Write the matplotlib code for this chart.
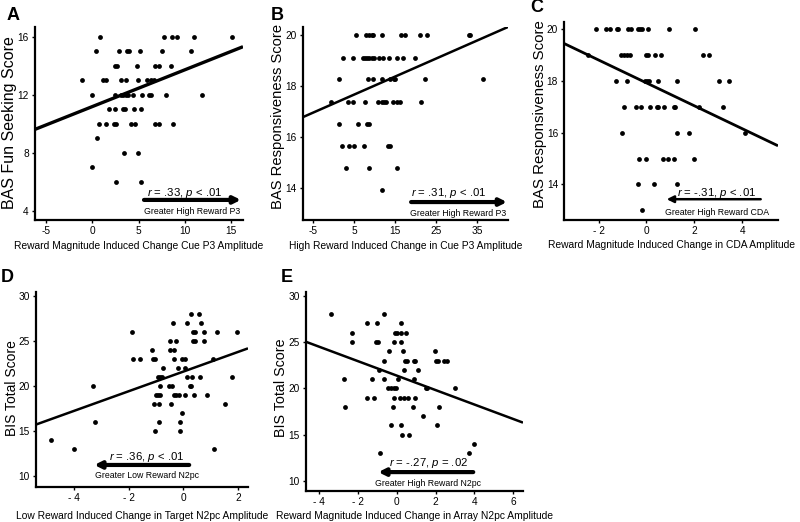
import matplotlib
matplotlib.use("Agg")
import matplotlib.pyplot as plt
import numpy as np

plt.rcParams['font.family'] = ['Liberation Sans', 'DejaVu Sans']
plt.rcParams['mathtext.fontset'] = 'custom'
plt.rcParams['mathtext.it'] = 'Liberation Sans:italic'
plt.rcParams['mathtext.rm'] = 'Liberation Sans'

# ---------------- Panel A ----------------
a_x = [0.83, 7.77, 8.67, 9.2, 11.0, 15.1,
       0.43, 2.88, 3.74, 4.0, 5.14, 7.55, 10.7,
       2.41, 2.63, 4.78, 6.83, 7.16, 8.53,
       -1.15, 1.15, 1.44, 3.09, 3.6, 4.93, 5.94, 6.4, 6.65,
       0.0, 2.41, 3.06, 3.35, 3.6, 3.85, 4.42, 5.36, 6.15, 6.3, 7.99, 11.9,
       1.83, 2.41, 3.35, 3.5, 4.5, 5.29,
       0.68, 1.47, 2.3, 2.59, 4.17, 4.6, 6.76, 7.16, 8.74,
       0.47, 3.42, 4.93, 0.0, 2.59, 5.29]
a_y = [16, 16, 16, 16, 16, 16,
       15, 15, 15, 15, 15, 15, 15,
       14, 14, 14, 14, 14, 14,
       13, 13, 13, 13, 13, 13, 13, 13, 13,
       12, 12, 12, 12, 12, 12, 12, 12, 12, 12, 12, 12,
       11, 11, 11, 11, 11, 11,
       10, 10, 10, 10, 10, 10, 10, 10, 10,
       9, 8, 8, 7, 6, 6]
a_fit = (11.19, 0.253)

# ---------------- Panel B ----------------
b_x = [5.33, 7.76, 8.66, 9.23, 9.6, 11.67, 16.54, 17.36, 21.18, 22.89, 32.97, 33.37,
       2.15, 4.59, 7.03, 7.6, 8.17, 8.66, 9.23, 9.72, 11.0, 12.15, 13.5, 15.5, 16.9, 19.96,
       1.26, 8.25, 9.63, 11.67, 13.78, 14.67, 15.08, 22.2, 36.4,
       -0.77, 3.37, 4.76, 7.52, 10.85, 11.67, 12.3, 12.7, 14.4, 15.5, 16.1, 21.4,
       1.34, 5.8, 8.17, 8.66,
       1.9, 3.78, 4.84, 7.28, 13.3, 13.8,
       3.05, 8.66, 15.4, 11.67]
b_y = [20.0] * 12 + [19.13] * 14 + [18.27] * 9 + [17.4] * 12 + [16.53] * 4 + \
      [15.66] * 6 + [14.8] * 3 + [13.93]
b_fit = (17.32, 0.0707)

# ---------------- Panel C ----------------
c_x = [-2.1, -1.68, -1.51, -1.24, -1.18, -0.78, -0.63, -0.35, -0.25, -0.18, 0.06, 0.96, 2.04,
       -2.42, -1.06, -0.92, -0.83, -0.68, -0.01, 0.06, 0.36, 0.61, 2.36, 2.61,
       -1.28, -0.81, -0.06, 0.03, 0.11, 0.47, 1.29, 3.03, 3.44,
       -0.93, -0.44, -0.21, 0.14, 0.43, 0.5, 0.75, 1.14, 1.19, 2.19, 3.19,
       -1.04, 1.29, 1.76, 4.11,
       -0.33, 0.0, 0.67, 0.89, 1.14, 1.99,
       -0.35, 0.33, 1.28, -0.17]
c_y = [20] * 13 + [19] * 11 + [18] * 9 + [17] * 11 + [16] * 4 + [15] * 6 + [14] * 3 + [13]
c_fit = (17.92, -0.442)

# ---------------- Panel D ----------------
d_x = [0.27, 0.56,
       -0.39, 0.12, 0.63,
       -1.89, 0.36, 0.41, 0.75, 1.21, 1.95,
       -0.5, -0.27, 0.33, 0.41, 0.75,
       -1.14, -0.48, -0.33,
       -1.84, -1.59, -1.1, -1.03, -0.36, -0.04, 0.07, 1.09,
       -0.75, -0.19, 0.04,
       -0.93, -0.85, -0.77, 0.13, 0.3, 0.61, 1.76,
       -3.28, -0.85, -0.52, -0.42, 0.23, 0.28,
       -0.99, -0.91, -0.85, -0.34, -0.27, -0.18, 0.04, 0.39, 0.86,
       -1.08, -0.88, -0.44, 1.53,
       -0.05,
       -3.23, -0.88, -0.12,
       -1.04, -0.12,
       -4.81,
       -3.97, 1.11]
d_y = [28] * 2 + [27] * 3 + [26] * 6 + [25] * 5 + [24] * 3 + [23] * 8 + [22] * 3 + \
      [21] * 7 + [20] * 6 + [19] * 9 + [18] * 4 + [17] + [16] * 3 + [15] * 2 + [14] + [13] * 2
d_fit = (21.64, 1.097)

# ---------------- Panel E ----------------
e_x = [-3.4, -0.69,
       -1.53, -1.01, 0.22,
       -2.3, -0.12, -0.02, 0.22, 0.48,
       -2.3, -1.1, -0.98, -0.17, 0.19,
       -0.39, 0.33, 1.96,
       -0.65, 0.43, 0.53, 0.87, 0.94, 2.04, 2.13, 2.42, 2.59,
       -0.94, 0.39, 1.08,
       -2.71, -1.29, -0.65, 0.07, 0.87,
       -0.48, -0.31, -0.17, -0.07, 1.48, 1.56, 2.98,
       -1.53, -1.17, -0.17, 0.14, 0.36, 0.58, 0.93,
       -2.69, -0.19, 0.81, 2.18,
       1.34,
       -0.31, 0.21, 2.08,
       0.26, 0.63,
       3.96,
       -0.86, 3.72]
e_y = [28] * 2 + [27] * 3 + [26] * 5 + [25] * 5 + [24] * 3 + [23] * 9 + [22] * 3 + \
      [21] * 5 + [20] * 7 + [19] * 7 + [18] * 4 + [17] + [16] * 3 + [15] * 2 + [14] + [13] * 2
e_fit = (21.37, -0.78)

panels = [
    dict(letter='A', x=a_x, y=a_y, fit=a_fit, rect=(35, 243, 27, 220),
         xlim=(-6.2, 16.3), ylim=(3.38, 16.67),
         xticks=[-5, 0, 5, 10, 15], xtl=['-5', '0', '5', '10', '15'],
         yticks=[4, 8, 12, 16],
         ylabel='BAS Fun Seeking Score',
         xlabel='Reward Magnitude Induced Change Cue P3 Amplitude',
         stat=r'$\mathit{r}$ = .33, $\mathit{p}$ < .01', greater='Greater High Reward P3',
         stat_xy=(0.72, 0.14), arrow=((0.524, 0.104), (0.99, 0.104)), greater_xy=(0.755, 0.045),
         lw=2.4, alw=3.0, letter_xy=(13, 15), ylab=(10, 123, 11.5), xlab_y=246),
    dict(letter='B', x=b_x, y=b_y, fit=b_fit, rect=(302.7, 508, 27, 220),
         xlim=(-7.6, 42.6), ylim=(12.74, 20.33),
         xticks=[-5, 5, 15, 25, 35], xtl=['-5', '5', '15', '25', '35'],
         yticks=[14, 16, 18, 20],
         ylabel='BAS Responsiveness Score',
         xlabel='High Reward Induced Change in Cue P3 Amplitude',
         stat=r'$\mathit{r}$ = .31, $\mathit{p}$ < .01', greater='Greater High Reward P3',
         stat_xy=(0.709, 0.14), arrow=((0.528, 0.093), (0.995, 0.093)), greater_xy=(0.755, 0.036),
         lw=1.8, alw=3.0, letter_xy=(277, 15), ylab=(278, 116, 10.6), xlab_y=246),
    dict(letter='C', x=c_x, y=c_y, fit=c_fit, rect=(564.3, 778, 22, 220),
         xlim=(-3.43, 5.49), ylim=(12.63, 20.27),
         xticks=[-2, 0, 2, 4], xtl=['- 2', '0', '2', '4'],
         yticks=[14, 16, 18, 20],
         ylabel='BAS Responsiveness Score',
         xlabel='Reward Magnitude Induced Change in CDA Amplitude',
         stat=r'$\mathit{r}$ = -.31, $\mathit{p}$ < .01', greater='Greater High Reward CDA',
         stat_xy=(0.713, 0.138), arrow=((0.919, 0.105), (0.479, 0.105)), greater_xy=(0.713, 0.04),
         lw=2.0, alw=1.8, letter_xy=(537, 8), ylab=(540, 114, 10.8), xlab_y=245),
    dict(letter='D', x=d_x, y=d_y, fit=d_fit, rect=(35.7, 248, 292, 487),
         xlim=(-5.38, 2.35), ylim=(8.81, 30.48),
         xticks=[-4, -2, 0, 2], xtl=['- 4', '- 2', '0', '2'],
         yticks=[10, 15, 20, 25, 30],
         ylabel='BIS Total Score',
         xlabel='Low Reward Induced Change in Target N2pc Amplitude',
         stat=r'$\mathit{r}$ = .36, $\mathit{p}$ < .01', greater='Greater Low Reward N2pc',
         stat_xy=(0.523, 0.155), arrow=((0.723, 0.113), (0.276, 0.113)), greater_xy=(0.523, 0.06),
         lw=1.8, alw=3.0, letter_xy=(7, 277), ylab=(12, 388, 10.0), xlab_y=516),
    dict(letter='E', x=e_x, y=e_y, fit=e_fit, rect=(305.7, 523, 292, 491),
         xlim=(-4.7, 6.5), ylim=(8.92, 30.4),
         xticks=[-4, -2, 0, 2, 4, 6], xtl=['- 4', '- 2', '0', '2', '4', '6'],
         yticks=[10, 15, 20, 25, 30],
         ylabel='BIS Total Score',
         xlabel='Reward Magnitude Induced Change in Array N2pc Amplitude',
         stat=r'$\mathit{r}$ = -.27, $\mathit{p}$ = .02', greater='Greater High Reward N2pc',
         stat_xy=(0.564, 0.142), arrow=((0.771, 0.095), (0.334, 0.095)), greater_xy=(0.564, 0.04),
         lw=1.8, alw=3.0, letter_xy=(287, 277), ylab=(281, 388, 10.3), xlab_y=516),
]

W, H = 800, 522
fig = plt.figure(figsize=(8.0, 5.22), dpi=100)

for p in panels:
    l, r, t, b = p['rect']
    ax = fig.add_axes([l / W, (H - b) / H, (r - l) / W, (b - t) / H])
    ax.set_facecolor('white')
    ax.scatter(p['x'], p['y'], s=12, color='black', linewidths=0, zorder=3)
    xs = np.array(p['xlim'])
    ax.plot(xs, p['fit'][0] + p['fit'][1] * xs, color='black', lw=p['lw'], zorder=4,
            solid_capstyle='butt')
    ax.set_xlim(*p['xlim'])
    ax.set_ylim(*p['ylim'])
    ax.set_xticks(p['xticks'])
    ax.set_xticklabels(p['xtl'], fontsize=7.3)
    ax.set_yticks(p['yticks'])
    ax.set_yticklabels([str(v) for v in p['yticks']], fontsize=7.3)
    for s in ['top', 'right']:
        ax.spines[s].set_visible(False)
    for s in ['left', 'bottom']:
        ax.spines[s].set_linewidth(1.6)
    ax.tick_params(direction='out', length=2.5, width=1, pad=2, colors='black')
    ax.set_xlabel(p['xlabel'], fontsize=7.4)
    ax.xaxis.set_label_coords(0.5, -(p['xlab_y'] - b) / (b - t))
    ax.xaxis.label.set_va('center')
    yx, yy, yfs = p['ylab']
    fig.text(yx / W, 1 - yy / H, p['ylabel'], rotation=90,
             ha='center', va='center', fontsize=yfs)
    fig.text(p['letter_xy'][0] / W, 1 - p['letter_xy'][1] / H, p['letter'],
             ha='center', va='center', fontsize=13, fontweight='bold')
    ax.text(*p['stat_xy'], p['stat'], transform=ax.transAxes, ha='center', va='center',
            fontsize=8.2)
    ax.annotate('', xy=p['arrow'][1], xytext=p['arrow'][0], xycoords='axes fraction',
                textcoords='axes fraction',
                arrowprops=dict(arrowstyle='-|>', lw=p['alw'], color='black',
                                mutation_scale=10, shrinkA=0, shrinkB=0))
    ax.text(*p['greater_xy'], p['greater'], transform=ax.transAxes, ha='center', va='center',
            fontsize=6.3)

fig.savefig('out.png', dpi=100, facecolor='white')
